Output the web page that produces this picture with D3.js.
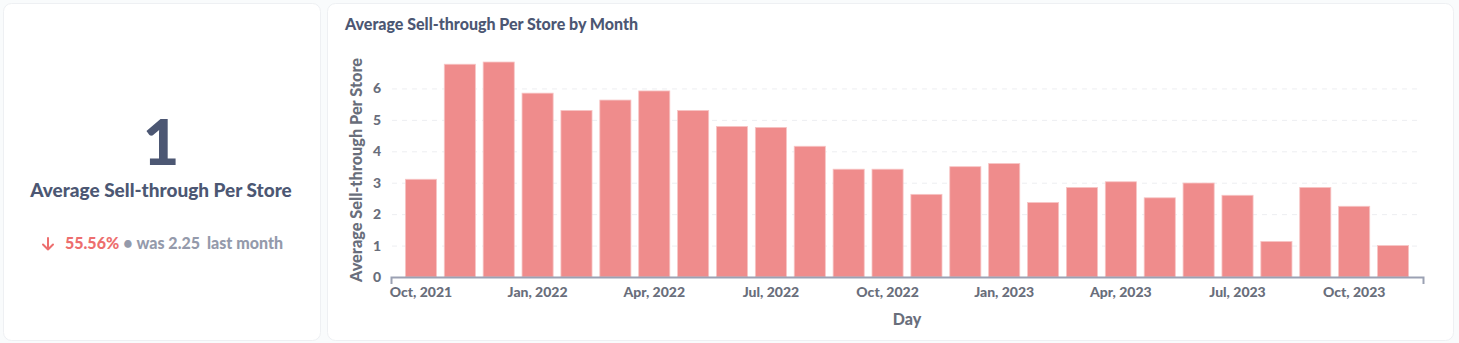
<!DOCTYPE html>
<html><head><meta charset="utf-8">
<script src="https://cdn.jsdelivr.net/npm/d3@7"></script>
<style>
html,body{margin:0;padding:0;background:#F9FBFC;}
svg{display:block;font-family:Lato,"Noto Sans",sans-serif;}
</style></head>
<body>
<svg id="c" width="1459" height="343"></svg>
<script>
const months = ["2021-10","2021-11","2021-12","2022-01","2022-02","2022-03","2022-04","2022-05","2022-06","2022-07","2022-08","2022-09","2022-10","2022-11","2022-12","2023-01","2023-02","2023-03","2023-04","2023-05","2023-06","2023-07","2023-08","2023-09","2023-10","2023-11"];
const values = [3.11,6.77,6.84,5.85,5.30,5.63,5.92,5.30,4.79,4.76,4.16,3.43,3.43,2.63,3.51,3.61,2.37,2.85,3.03,2.52,2.99,2.60,1.13,2.85,2.25,1];
const tickMonths = ["2021-10","2022-01","2022-04","2022-07","2022-10","2023-01","2023-04","2023-07","2023-10"];
const yTicks = [0,1,2,3,4,5,6];
const scalarValue = "1";
const scalarTitle = "Average Sell-through Per Store";
const changePct = "55.56%";
const prevText = "was 2.25";
const prevPeriod = "last month";
const chartTitle = "Average Sell-through Per Store by Month";
const yTitle = "Average Sell-through Per Store";
const xTitle = "Day";

const svg = d3.select("#c");
const parse = d3.timeParse("%Y-%m");
const fmt = d3.timeFormat("%b, %Y");
const W = 900;

// cards
svg.append("rect").attr("x",3.5).attr("y",3.5).attr("width",317).attr("height",337).attr("rx",8)
  .attr("fill","#fff").attr("stroke","#EEF0F3");
svg.append("rect").attr("x",327.5).attr("y",3.5).attr("width",1126).attr("height",337).attr("rx",8)
  .attr("fill","#fff").attr("stroke","#EEF0F3");

// scalar card
svg.append("text").attr("x",161).attr("y",165).attr("text-anchor","middle")
  .attr("font-size",63).attr("font-weight",900).attr("fill","#4C5773").text(scalarValue);
svg.append("text").attr("x",161).attr("y",197).attr("text-anchor","middle")
  .attr("font-size",19).attr("font-weight",W).attr("fill","#4C5773").text(scalarTitle);
// arrow
const red = "#ED6E6E";
svg.append("path").attr("d","M48,238 L48,249.5 M43,244.5 L48,249.5 L53,244.5")
  .attr("fill","none").attr("stroke",red).attr("stroke-width",2).attr("stroke-linecap","round").attr("stroke-linejoin","round");
const sub = svg.append("text").attr("x",65).attr("y",249).attr("font-size",16).attr("font-weight",W);
sub.append("tspan").attr("fill",red).text(changePct);
sub.append("tspan").attr("fill","#949AAB").attr("dx",4).text("•");
sub.append("tspan").attr("fill","#949AAB").attr("dx",4).text(prevText);
sub.append("tspan").attr("fill","#949AAB").attr("dx",7).text(prevPeriod);

// chart title
svg.append("text").attr("x",345).attr("y",30).attr("font-size",16).attr("font-weight",W)
  .attr("fill","#4C5773").text(chartTitle);

const data = months.map((m,i)=>({d:parse(m), v:values[i]}));
const x = d3.scaleBand().domain(data.map(d=>+d.d)).range([391,1423]).paddingInner(0.2).paddingOuter(0.37);
const y = d3.scaleLinear().domain([0,7]).range([277,57]);

// gridlines
svg.append("g").selectAll("line").data(yTicks.filter(t=>t>0)).join("line")
  .attr("x1",392).attr("x2",1422).attr("y1",d=>y(d)+0.5).attr("y2",d=>y(d)+0.5)
  .attr("stroke","#EDEEF1").attr("stroke-dasharray","5,5");

// bars
svg.append("g").selectAll("rect").data(data).join("rect")
  .attr("x",d=>x(+d.d)).attr("width",x.bandwidth())
  .attr("y",d=>y(d.v)).attr("height",d=>y(0)-y(d.v))
  .attr("fill","#EF8C8C").attr("stroke","#F7C5C5").attr("stroke-width",0.8);

// y axis
const yAxis = svg.append("g").attr("transform","translate(381,0)")
  .call(d3.axisLeft(y).tickValues(yTicks).tickSize(0).tickPadding(0).tickFormat(d3.format("d")));
yAxis.select(".domain").remove();
yAxis.selectAll("text").attr("font-size",14).attr("font-weight",W).attr("fill","#696E7B").attr("font-family","Lato");

// x axis
const xAxis = svg.append("g").attr("transform","translate(0,277)")
  .call(d3.axisBottom(x).tickValues(tickMonths.map(m=>+parse(m))).tickSizeInner(0).tickSizeOuter(7).tickPadding(10)
    .tickFormat(d=>fmt(new Date(d))));
xAxis.select(".domain").attr("stroke","#9BA1B3").attr("stroke-width",2);
xAxis.selectAll("text").attr("font-size",14).attr("font-weight",W).attr("fill","#696E7B").attr("font-family","Lato");

// axis titles
svg.append("text").attr("transform","translate(362,170) rotate(-90)").attr("text-anchor","middle")
  .attr("font-size",16.3).attr("font-weight",W).attr("fill","#696E7B").text(yTitle);
svg.append("text").attr("x",907).attr("y",325).attr("text-anchor","middle")
  .attr("font-size",16).attr("font-weight",W).attr("fill","#696E7B").text(xTitle);
</script>
</body></html>
